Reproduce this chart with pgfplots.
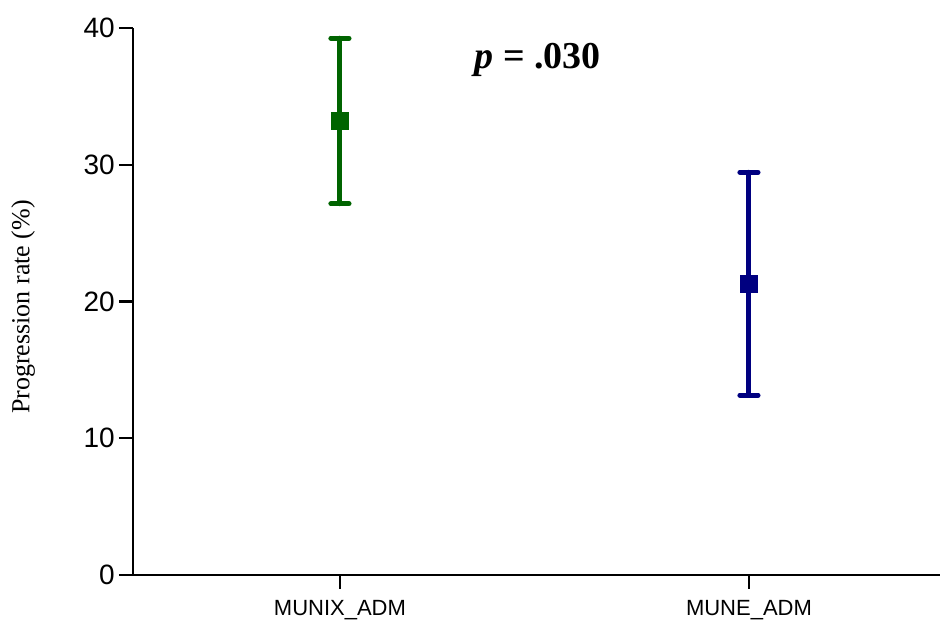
\documentclass[border=0pt]{standalone}
\usepackage{pgfplots}
\pgfplotsset{compat=1.18}
\usepackage{fontspec}
\setmainfont{Liberation Serif}
\setsansfont{Liberation Sans}
\definecolor{cgreen}{RGB}{0,100,0}
\definecolor{cblue}{RGB}{0,0,128}
\begin{document}
\begin{tikzpicture}
\begin{axis}[
  scale only axis,
  width=605.25pt, height=410.25pt,
  xmin=-0.506, xmax=1.467,
  ymin=0, ymax=40,
  axis x line=bottom, axis y line=left,
  axis line style={-, line width=1.9pt},
  xtick={0,1}, xticklabels={MUNIX\_ADM, MUNE\_ADM},
  ytick={0,10,20,30,40},
  tick align=outside,
  major tick length=10.5pt,
  tick style={line width=1.6pt, black},
  /pgf/number format/assume math mode=true,
  yticklabel style={font=\sffamily\fontsize{21}{21}\selectfont, inner sep=3pt},
  xticklabel style={font=\sffamily\fontsize{16.5}{17}\selectfont, yshift=-5pt},
  ylabel={Progression rate (\%)},
  ylabel style={at={(axis description cs:-0.136,0.49)}, anchor=center, font=\fontsize{19.5}{19.5}\selectfont},
  clip=false,
]
\addplot[cgreen, line width=3.75pt, mark=square*, mark size=6.3pt, mark options={line width=0.4pt},
  error bars/.cd, y dir=both, y explicit,
  error bar style={line width=3.75pt, line cap=round},
  error mark options={line width=3.75pt, mark size=6.8pt, rotate=90, line cap=round}]
  coordinates {(0,33.2) +- (0,6.05)};
\addplot[cblue, line width=3.75pt, mark=square*, mark size=6.3pt, mark options={line width=0.4pt},
  error bars/.cd, y dir=both, y explicit,
  error bar style={line width=3.75pt, line cap=round},
  error mark options={line width=3.75pt, mark size=6.8pt, rotate=90, line cap=round}]
  coordinates {(1,21.3) +- (0,8.15)};
\node[font=\bfseries\fontsize{28.5}{28.5}\selectfont] at (axis cs:0.484,37.7) {\textit{p} = .030};
\path (axis description cs:-0.1648,-0.1005) rectangle (axis description cs:1.0025,1.0512);
\end{axis}
\end{tikzpicture}
\end{document}
